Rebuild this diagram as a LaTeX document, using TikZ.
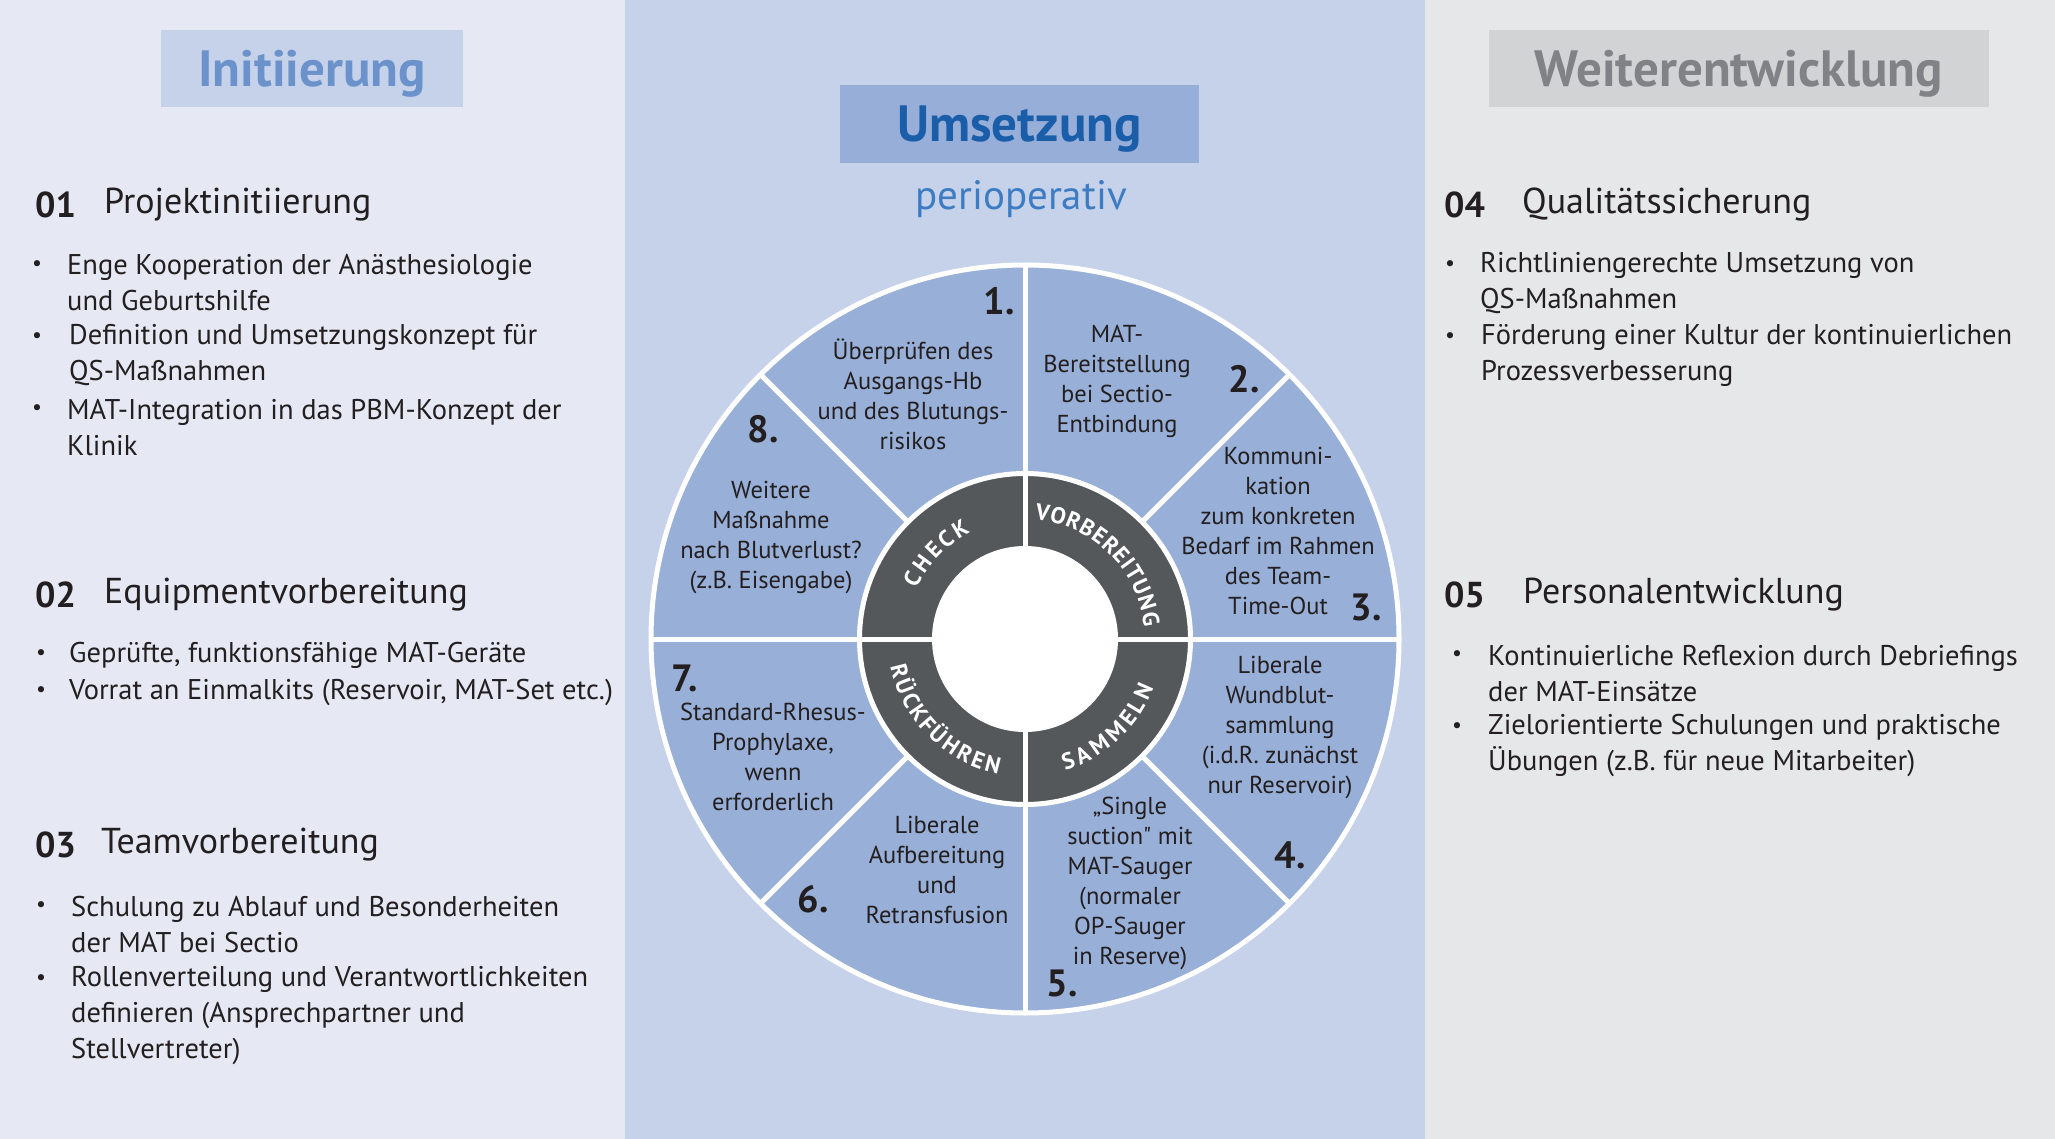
\documentclass[tikz,border=0pt]{standalone}
\usepackage{fontspec}
\setmainfont{PT Sans}
\newfontfamily\plainq{PT Sans}
\usetikzlibrary{positioning}
\definecolor{leftbg}{HTML}{E6E9F4}
\definecolor{midbg}{HTML}{C6D2E9}
\definecolor{rightbg}{HTML}{E6E7E9}
\definecolor{initbox}{HTML}{C6D2E9}
\definecolor{inittext}{HTML}{6C92CB}
\definecolor{umsbox}{HTML}{97AED8}
\definecolor{umstext}{HTML}{1A5EA9}
\definecolor{periotext}{HTML}{3D7CC3}
\definecolor{weitbox}{HTML}{D2D3D5}
\definecolor{weittext}{HTML}{808285}
\definecolor{secblue}{HTML}{98AFD8}
\definecolor{ringgrey}{HTML}{54585A}
\definecolor{ink}{HTML}{231F20}
\tikzset{
  headbox/.style={rectangle,inner sep=0pt,minimum height=77pt,text height=46pt,text depth=10pt,font=\fontsize{51}{54}\selectfont\bfseries},
  secnum/.style={anchor=west,inner sep=0pt,text=ink,font=\fontsize{36}{42}\selectfont\bfseries},
  sectitle/.style={anchor=west,inner sep=0pt,text=ink,font=\fontsize{36}{42}\selectfont},
  dot/.style={inner sep=0pt,text=ink,font=\fontsize{22}{36}\selectfont},
  item/.style={anchor=west,inner sep=0pt,align=left,text=ink,font=\fontsize{28.5}{36}\selectfont},
  segtext/.style={inner sep=0pt,align=center,text=ink,font=\fontsize{24.5}{30}\selectfont},
  segnum/.style={inner sep=0pt,text=ink,font=\fontsize{38}{40}\selectfont\bfseries},
  ringchar/.style={inner sep=0pt,text=white,text height=17pt,text depth=0pt,font=\fontsize{23}{24}\selectfont\bfseries},
  divider/.style={draw=white,line width=5pt}
}
\begin{document}
\begin{tikzpicture}[x=1pt,y=1pt]
  % panels
  \fill[leftbg] (0,0) rectangle (625,-1139);
  \fill[midbg] (625,0) rectangle (1425,-1139);
  \fill[rightbg] (1425,0) rectangle (2055,-1139);
  \useasboundingbox (0,0) rectangle (2055,-1139);

  % headers
  \node[headbox,fill=initbox,text=inittext,minimum width=302pt] (init) at (312,-68.5) {Initiierung};
  \node[headbox,fill=umsbox,text=umstext,minimum width=359pt,minimum height=78pt] (ums) at (1019.5,-124) {Umsetzung};
  \node[inner sep=0pt,text=periotext,font=\fontsize{41}{44}\selectfont] (perio) at (1021,-199) {perioperativ};
  \node[headbox,fill=weitbox,text=weittext,minimum width=500pt] (weit) at (1739,-68.5) {Weiterentwicklung};

  % wheel
  \coordinate (c) at (1025,-639);
  \begin{scope}[shift={(c)}]
    \fill[secblue] (0,0) circle (374);
    \fill[ringgrey] (0,0) circle (164);
    \fill[white] (0,0) circle (93);
    \draw[divider] (0,0) circle (165.5);
    \draw[divider] (0,0) circle (374);
    \foreach \a in {45,135,225,315}
      \draw[divider] (\a:165) -- (\a:376);
    \foreach \a in {0,90,180,270}
      \draw[divider] (\a:92) -- (\a:376);
    % ring labels
    \foreach \ch/\a in {C/152,H/143.75,E/135.77,C/128.41,K/120.6}
      \node[ringchar,rotate=\a-90] at (\a:128) {\makebox[0pt]{\ch}};
    \foreach \ch/\a in {V/82,O/74.79,R/67.53,B/60.66,E/54.13,R/47.64,E/41.15,I/36.11,T/31.06,U/24.24,N/16.55,G/9}
      \node[ringchar,rotate=\a-90] at (\a:128) {\makebox[0pt]{\ch}};
    \foreach \ch/\a in {S/-70.5,A/-63.52,M/-55,M/-45.41,E/-37.36,L/-31.14,N/-24}
      \node[ringchar,rotate=\a+90] at (\a:129) {\makebox[0pt]{\ch}};
    \foreach \ch/\a in {R/194.2,Ü/201.25,C/208.21,K/214.89,F/221.19,Ü/227.77,H/235.25,R/242.4,E/248.79,N/255.7}
      \node[ringchar,rotate=\a+90] at (\a:129) {\makebox[0pt]{\ch}};
  \end{scope}

  % segment texts
  \node[segtext] (s1) at (913,-394.5) {Überprüfen des\\Ausgangs-Hb\\und des Blutungs-\\risikos};
  \node[segtext] (s2) at (1117,-381) {MAT-\\Bereitstellung\\bei Sectio-\\Entbindung};
  \node[segtext] (s3) at (1278,-530.5) {Kommuni-\\kation\\zum konkreten\\Bedarf im Rahmen\\des Team-\\Time-Out};
  \node[segtext] (s4) at (1280,-727.5) {Liberale\\Wundblut-\\sammlung\\(i.d.R. zunächst\\nur Reservoir)};
  \node[segtext] (s5) at (1130,-883.5) {„Single\\suction{\plainq"} mit\\MAT-Sauger\\(normaler\\OP-Sauger\\in Reserve)};
  \node[segtext] (s6) at (937,-869.5) {Liberale\\Aufbereitung\\und\\Retransfusion};
  \node[segtext] (s7) at (773,-757) {Standard-Rhesus-\\Prophylaxe,\\wenn\\erforderlich};
  \node[segtext] (s8) at (771,-538) {Weitere\\Maßnahme\\nach Blutverlust?\\(z.B. Eisengabe)};
  \node[segnum] (n1) at (999,-301) {1.};
  \node[segnum] (n2) at (1244,-379) {2.};
  \node[segnum] (n3) at (1366,-607) {3.};
  \node[segnum] (n4) at (1290,-855) {4.};
  \node[segnum] (n5) at (1062,-983) {5.};
  \node[segnum] (n6) at (813,-899) {6.};
  \node[segnum] (n7) at (685,-678) {7.};
  \node[segnum] (n8) at (763,-429) {8.};

  % left column
  \node[secnum] (h1n) at (35,-205) {01};
  \node[sectitle] (h1) at (104,-205) {Projektinitiierung};
  \node[dot] (d11) at (37,-266) {\textbullet};
  \node[item] (i11) at (67,-283) {Enge Kooperation der Anästhesiologie\\und Geburtshilfe};
  \node[dot] (d12) at (37,-338) {\textbullet};
  \node[item] (i12) at (69,-355.5) {Definition und Umsetzungskonzept für\\QS-Maßnahmen};
  \node[dot] (d13) at (37,-410) {\textbullet};
  \node[item] (i13) at (67,-428) {MAT-Integration in das PBM-Konzept der\\Klinik};

  \node[secnum] (h2n) at (35,-595) {02};
  \node[sectitle] (h2) at (104,-595) {Equipmentvorbereitung};
  \node[dot] (d21) at (41,-655) {\textbullet};
  \node[item] (i21) at (69,-655) {Geprüfte, funktionsfähige MAT-Geräte};
  \node[dot] (d22) at (41,-692) {\textbullet};
  \node[item] (i22) at (69,-692) {Vorrat an Einmalkits (Reservoir, MAT-Set etc.)};

  \node[secnum] (h3n) at (35,-845) {03};
  \node[sectitle] (h3) at (101,-845) {Teamvorbereitung};
  \node[dot] (d31) at (41,-907) {\textbullet};
  \node[item] (i31) at (71,-924.5) {Schulung zu Ablauf und Besonderheiten\\der MAT bei Sectio};
  \node[dot] (d32) at (41,-980) {\textbullet};
  \node[item] (i32) at (71,-1016) {Rollenverteilung und Verantwortlichkeiten\\definieren (Ansprechpartner und\\Stellvertreter)};

  % right column
  \node[secnum] (h4n) at (1444,-205) {04};
  \node[sectitle] (h4) at (1522,-205) {Qualitätssicherung};
  \node[dot] (d41) at (1450,-266) {\textbullet};
  \node[item] (i41) at (1480,-283) {Richtliniengerechte Umsetzung von\\QS-Maßnahmen};
  \node[dot] (d42) at (1450,-338) {\textbullet};
  \node[item] (i42) at (1481,-355.5) {Förderung einer Kultur der kontinuierlichen\\Prozessverbesserung};

  \node[secnum] (h5n) at (1444,-595) {05};
  \node[sectitle] (h5) at (1523,-595) {Personalentwicklung};
  \node[dot] (d51) at (1457,-656) {\textbullet};
  \node[item] (i51) at (1488,-673.5) {Kontinuierliche Reflexion durch Debriefings\\der MAT-Einsätze};
  \node[dot] (d52) at (1457,-728) {\textbullet};
  \node[item] (i52) at (1488,-745.5) {Zielorientierte Schulungen und praktische\\Übungen (z.B. für neue Mitarbeiter)};
\end{tikzpicture}
\end{document}
